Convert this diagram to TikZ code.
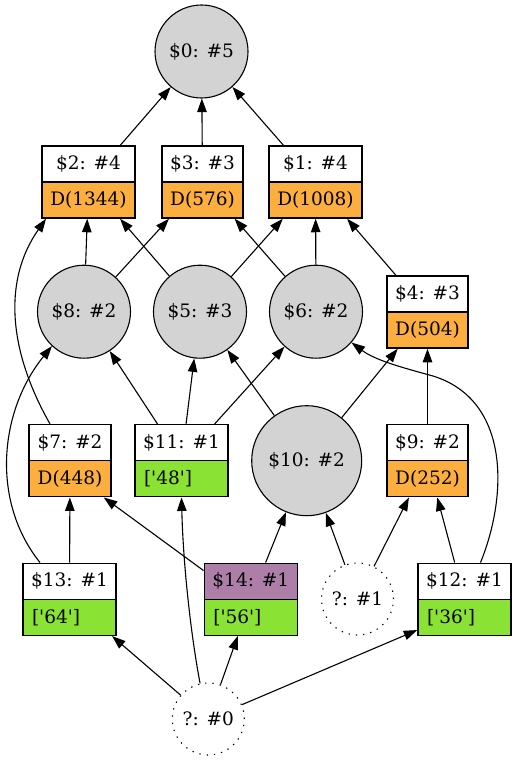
\documentclass[tikz,border=0pt]{standalone}
\usetikzlibrary{arrows.meta,fit}
\font\dv="DejaVu Serif" at 18.5pt
\definecolor{gfill}{HTML}{D3D3D3}
\definecolor{orng}{HTML}{FCAF3E}
\definecolor{grn}{HTML}{8AE234}
\definecolor{plum}{HTML}{AD7FA8}
\begin{document}
\begin{tikzpicture}[x=1pt,y=-1pt,
  every node/.style={font=\dv, inner sep=0pt},
  circ/.style={circle, draw, fill=gfill, line width=1.1pt, minimum size=93pt},
  qcirc/.style={circle, draw, line width=1.1pt, dash pattern=on 1.3pt off 6pt, minimum size=72pt},
  part/.style={rectangle, draw, line width=1.1pt, minimum height=36pt},
  whole/.style={inner sep=0pt, draw=none},
  edge/.style={line width=1.1pt, -{Triangle[length=13.5pt,width=9.5pt]}}
]
\useasboundingbox (0,0) rectangle (516,760);
% circles
\node[circ] (n0) at (201.5,51.5) {\$0: \#5};
\node[circ] (n8) at (84,311.7) {\$8: \#2};
\node[circ] (n5) at (200,311.7) {\$5: \#3};
\node[circ] (n6) at (316,311.7) {\$6: \#2};
\node[circ, minimum size=110pt] (n10) at (306.7,460.7) {\$10: \#2};
\node[qcirc] (q1) at (357.5,599) {?: \#1};
\node[qcirc] (q0) at (208.3,719) {?: \#0};
% record boxes
\node[part, minimum width=93pt] (n2t) at (88.5,164) {\$2: \#4};
\node[part, fill=orng, minimum width=93pt] (n2b) at (88.5,200) {D(1344)};
\node[whole, fit=(n2t)(n2b)] (n2) {};
\node[part, minimum width=81pt] (n3t) at (202.5,164) {\$3: \#3};
\node[part, fill=orng, minimum width=81pt] (n3b) at (202.5,200) {D(576)};
\node[whole, fit=(n3t)(n3b)] (n3) {};
\node[part, minimum width=93pt] (n1t) at (315.5,164) {\$1: \#4};
\node[part, fill=orng, minimum width=93pt] (n1b) at (315.5,200) {D(1008)};
\node[whole, fit=(n1t)(n1b)] (n1) {};
\node[part, minimum width=81pt] (n4t) at (427.5,294) {\$4: \#3};
\node[part, fill=orng, minimum width=81pt] (n4b) at (427.5,330) {D(504)};
\node[whole, fit=(n4t)(n4b)] (n4) {};
\node[part, minimum width=82pt] (n7t) at (70,442.7) {\$7: \#2};
\node[part, fill=orng, minimum width=82pt] (n7b) at (70,478.7) {D(448)};
\node[whole, fit=(n7t)(n7b)] (n7) {};
\node[part, minimum width=93pt] (n11t) at (181.5,442.7) {\$11: \#1};
\node[part, fill=grn, minimum width=93pt] (n11b) at (181.5,478.7) {\makebox[75pt][l]{['48']}};
\node[whole, fit=(n11t)(n11b)] (n11) {};
\node[part, minimum width=81pt] (n9t) at (427.5,442.7) {\$9: \#2};
\node[part, fill=orng, minimum width=81pt] (n9b) at (427.5,478.7) {D(252)};
\node[whole, fit=(n9t)(n9b)] (n9) {};
\node[part, minimum width=93pt] (n13t) at (69.5,581.3) {\$13: \#1};
\node[part, fill=grn, minimum width=93pt] (n13b) at (69.5,617.3) {\makebox[75pt][l]{['64']}};
\node[whole, fit=(n13t)(n13b)] (n13) {};
\node[part, fill=plum, minimum width=93pt] (n14t) at (250.8,581.3) {\$14: \#1};
\node[part, fill=grn, minimum width=93pt] (n14b) at (250.8,617.3) {\makebox[75pt][l]{['56']}};
\node[whole, fit=(n14t)(n14b)] (n14) {};
\node[part, minimum width=93pt] (n12t) at (464.5,581.3) {\$12: \#1};
\node[part, fill=grn, minimum width=93pt] (n12b) at (464.5,617.3) {\makebox[75pt][l]{['36']}};
\node[whole, fit=(n12t)(n12b)] (n12) {};
% straight edges
\draw[edge] (n2) -- (n0);
\draw[edge] (n3) -- (n0);
\draw[edge] (n1) -- (n0);
\draw[edge] (n8) -- (n2);
\draw[edge] (n5) -- (n2);
\draw[edge] (n8) -- (n3);
\draw[edge] (n5) -- (n1);
\draw[edge] (n6) -- (n3);
\draw[edge] (n6) -- (n1);
\draw[edge] (n4) -- (n1);
\draw[edge] (n11) -- (n8);
\draw[edge] (n11) -- (n5);
\draw[edge] (n11) -- (n6);
\draw[edge] (n10) -- (n5);
\draw[edge] (n10) -- (n4);
\draw[edge] (n9) -- (n4);
\draw[edge] (n13) -- (n7);
\draw[edge] ([yshift=-8pt]n14.north west) -- ([xshift=-8pt]n7.south east);
\draw[edge] (n14) -- (n10);
\draw[edge] (q1) -- (n10);
\draw[edge] (q1) -- (n9);
\draw[edge] (n12) -- (n9);
\draw[edge] (q0) -- (n13);
\draw[edge] (q0) -- (n14);
\draw[edge] (q0) -- ([yshift=6pt]n12.south west);
% curved edges
\draw[edge] ([xshift=-20pt]n7.north) .. controls (8,350) and (3,280) .. ([xshift=-42.5pt]n2.south);
\draw[edge] ([xshift=-29.5pt]n13.north) .. controls (-10,500) and (0,410) .. (n8.227);
\draw[edge] ([xshift=16pt]n12.north) .. controls (508,495) and (510,400) .. (433,376) .. controls (400,367) and (375,360) .. (n6.-41);
\draw[edge] (q0.103) .. controls (190,630) and (183,560) .. (n11.south);
\end{tikzpicture}
\end{document}
